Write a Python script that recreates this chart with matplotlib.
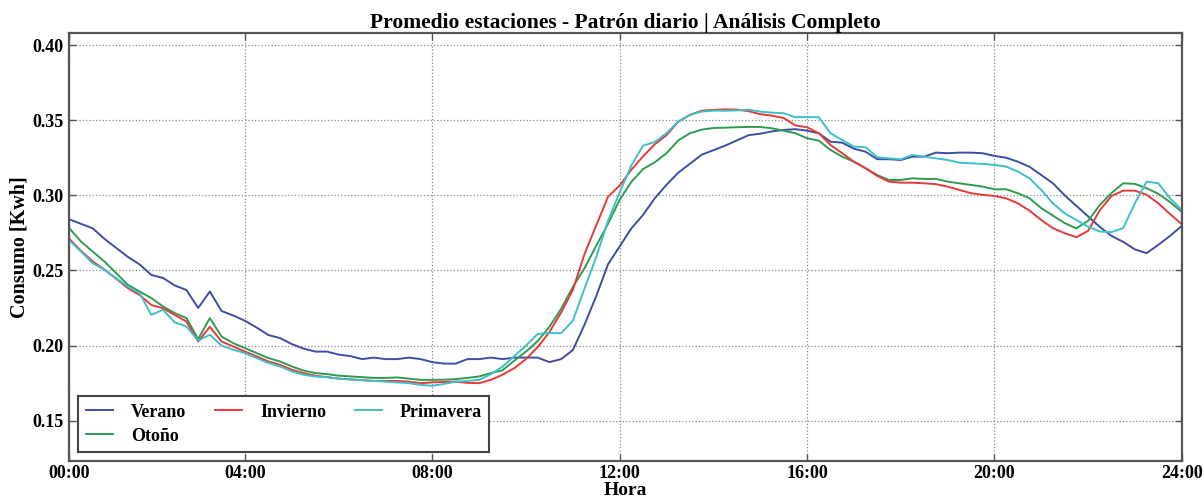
import numpy as np
import matplotlib
matplotlib.use('Agg')
import matplotlib.pyplot as plt

# 15-minute samples, 00:15 .. 24:00
hours = np.arange(1, 97) * 0.25

verano = [
    0.284, 0.281, 0.278, 0.271, 0.265, 0.259, 0.254, 0.247,
    0.245, 0.240, 0.237, 0.225, 0.236, 0.223, 0.220, 0.2165,
    0.212, 0.207, 0.205, 0.201, 0.198, 0.196, 0.196, 0.194,
    0.193, 0.191, 0.192, 0.191, 0.191, 0.192, 0.191, 0.189,
    0.188, 0.188, 0.191, 0.191, 0.192, 0.191, 0.192, 0.192,
    0.192, 0.189, 0.191, 0.197, 0.214, 0.233, 0.254, 0.266,
    0.278, 0.287, 0.298, 0.307, 0.315, 0.321, 0.327, 0.330,
    0.333, 0.3365, 0.340, 0.341, 0.3425, 0.3435, 0.344, 0.343,
    0.3413, 0.3357, 0.335, 0.331, 0.329, 0.324, 0.324, 0.3235,
    0.3257, 0.3257, 0.3284, 0.328, 0.3284, 0.3284, 0.328, 0.3262,
    0.325, 0.3224, 0.319, 0.3135, 0.308, 0.300, 0.293, 0.286,
    0.279, 0.273, 0.269, 0.264, 0.2615, 0.267, 0.273, 0.2796,
]

otono = [
    0.278, 0.2692, 0.2625, 0.2559, 0.2482, 0.2404, 0.236, 0.2316,
    0.226, 0.2216, 0.2183, 0.2043, 0.2183, 0.206, 0.2016, 0.1983,
    0.195, 0.1917, 0.1894, 0.1861, 0.1834, 0.1817, 0.181, 0.180,
    0.1795, 0.179, 0.1785, 0.1785, 0.1788, 0.178, 0.1772, 0.1772,
    0.1773, 0.1777, 0.1785, 0.1795, 0.1817, 0.1836, 0.190, 0.196,
    0.203, 0.2125, 0.2245, 0.239, 0.2515, 0.2665, 0.281, 0.297,
    0.309, 0.3175, 0.322, 0.328, 0.3365, 0.3413, 0.3437, 0.3448,
    0.345, 0.3453, 0.3455, 0.3455, 0.3446, 0.343, 0.3413, 0.338,
    0.3364, 0.3302, 0.3257, 0.3224, 0.318, 0.3135, 0.3102, 0.3102,
    0.3113, 0.3109, 0.3109, 0.3091, 0.308, 0.3069, 0.3058, 0.304,
    0.304, 0.3014, 0.298, 0.2915, 0.2865, 0.2815, 0.278, 0.283,
    0.2935, 0.3015, 0.308, 0.3076, 0.3047, 0.301, 0.2955, 0.289,
]

invierno = [
    0.271, 0.263, 0.256, 0.2505, 0.2445, 0.2382, 0.2337, 0.227,
    0.2249, 0.2204, 0.216, 0.2027, 0.2125, 0.2027, 0.1994, 0.196,
    0.1928, 0.1894, 0.1872, 0.1839, 0.1817, 0.1799, 0.179, 0.178,
    0.1775, 0.177, 0.1765, 0.1765, 0.1765, 0.176, 0.175, 0.1755,
    0.1758, 0.176, 0.1752, 0.175, 0.1772, 0.1806, 0.185, 0.191,
    0.199, 0.209, 0.222, 0.237, 0.261, 0.280, 0.299, 0.3065,
    0.317, 0.326, 0.334, 0.340, 0.349, 0.3535, 0.3563, 0.3568,
    0.3572, 0.357, 0.356, 0.354, 0.353, 0.3515, 0.3465, 0.3453,
    0.3413, 0.3335, 0.328, 0.3224, 0.318, 0.3129, 0.3091, 0.3084,
    0.3084, 0.308, 0.3074, 0.3058, 0.3036, 0.3014, 0.3003, 0.2996,
    0.298, 0.2947, 0.2898, 0.2836, 0.2781, 0.2748, 0.2721, 0.2763,
    0.290, 0.2995, 0.3031, 0.3031, 0.3003, 0.2947, 0.2875, 0.2808,
]

primavera = [
    0.270, 0.2625, 0.2548, 0.2504, 0.2448, 0.2393, 0.2349, 0.2204,
    0.2238, 0.2154, 0.2127, 0.2034, 0.2072, 0.200, 0.1972, 0.195,
    0.1917, 0.1884, 0.1861, 0.1828, 0.1806, 0.1794, 0.179, 0.178,
    0.1775, 0.177, 0.1765, 0.176, 0.1755, 0.175, 0.1739, 0.1732,
    0.1745, 0.176, 0.1765, 0.1772, 0.181, 0.186, 0.193, 0.200,
    0.2078, 0.2083, 0.2083, 0.2165, 0.238, 0.259, 0.283, 0.302,
    0.320, 0.333, 0.3355, 0.3413, 0.349, 0.3535, 0.3557, 0.3563,
    0.3563, 0.3565, 0.357, 0.3557, 0.355, 0.3546, 0.352, 0.352,
    0.352, 0.3413, 0.3368, 0.3324, 0.332, 0.3253, 0.3246, 0.324,
    0.3268, 0.3257, 0.3246, 0.3235, 0.3217, 0.3213, 0.3209, 0.3202,
    0.3191, 0.3158, 0.3113, 0.3036, 0.2947, 0.288, 0.2836, 0.2792,
    0.2759, 0.2755, 0.2781, 0.2947, 0.3091, 0.308, 0.298, 0.2903,
]

series = [("Verano", verano, "#3e4ea2"),
          ("Otoño", otono, "#2f9c50"),
          ("Invierno", invierno, "#e53a3c"),
          ("Primavera", primavera, "#3fbfc6")]

xtick_pos = [0.25, 4, 8, 12, 16, 20, 24]
xtick_labels = ["00:00", "04:00", "08:00", "12:00", "16:00", "20:00", "24:00"]
ytick_pos = [0.15, 0.20, 0.25, 0.30, 0.35, 0.40]

plt.rcParams['font.family'] = ['Liberation Serif', 'DejaVu Serif']
plt.rcParams['font.weight'] = 'bold'

fig, ax = plt.subplots(figsize=(12.04, 5.0), dpi=100)
fig.subplots_adjust(left=0.0576, right=0.9815, bottom=0.078, top=0.9334)

for name, vals, col in series:
    ax.plot(hours, vals, color=col, lw=1.4, label=name)

ax.set_xlim(0.25, 24)
ax.set_ylim(0.1232, 0.4078)
ax.set_xticks(xtick_pos)
ax.set_xticklabels(xtick_labels)
ax.set_yticks(ytick_pos)
ax.set_yticklabels([f"{v:.2f}" for v in ytick_pos])

ax.grid(True, linestyle=':', color='#8a8a8a', linewidth=0.9)
ax.tick_params(direction='in', top=True, right=True, length=5, width=1,
               color='#555555', labelsize=13, pad=4)
ax.tick_params(axis='x', pad=3)
for s in ax.spines.values():
    s.set_color('#555555')
    s.set_linewidth(1.6)

ax.set_title("Promedio estaciones - Patrón diario | Análisis Completo",
             fontsize=15.5, fontweight='bold', pad=4)
ax.set_xlabel("Hora", fontsize=14, fontweight='bold')
ax.xaxis.set_label_coords(0.5, -0.049)
ax.set_ylabel("Consumo [Kwh]", fontsize=14.5, fontweight='bold', labelpad=2)

leg = ax.legend(loc='lower left', ncol=3, fontsize=13, fancybox=False,
                edgecolor='#444444', framealpha=1, handlelength=1.5,
                handletextpad=1.0, columnspacing=1.6, labelspacing=0.4,
                borderaxespad=0.5)
leg.get_frame().set_linewidth(1.5)

plt.savefig("out.png", dpi=100)
